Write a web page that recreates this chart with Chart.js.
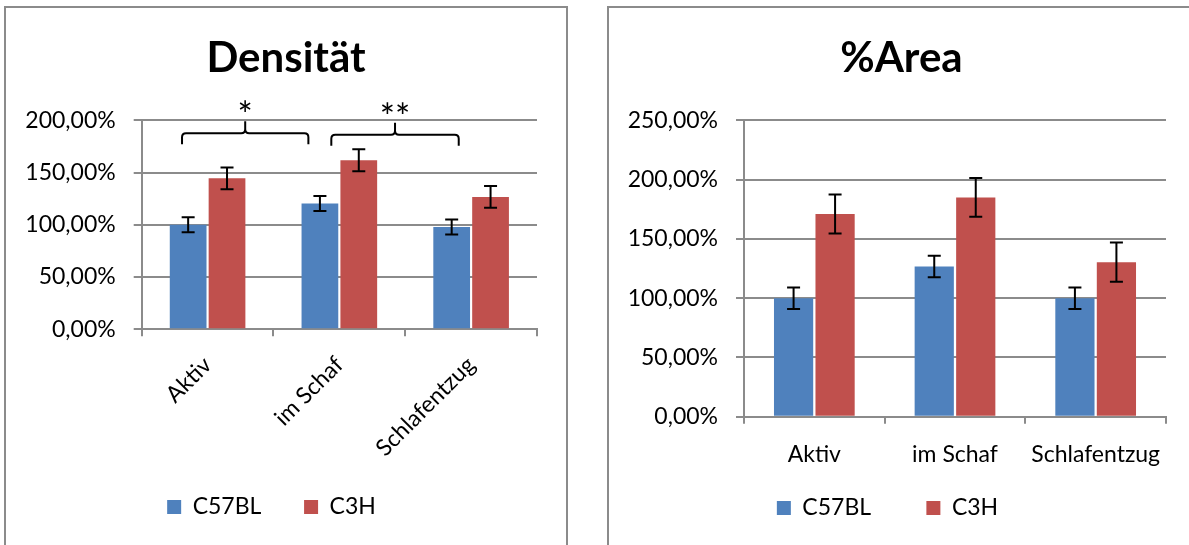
<!DOCTYPE html>
<html lang="de">
<head>
<meta charset="UTF-8">
<title>Densität / %Area</title>
<script src="https://cdn.jsdelivr.net/npm/chart.js@4.4.1/dist/chart.umd.min.js"></script>
<style>
  html, body { margin: 0; padding: 0; background: #fff; overflow: hidden; }
  .box { position: absolute; top: 6px; border: 2px solid #8b8b8b; background: #fff; }
  #boxDens { left: 4px; width: 560px; height: 560px; }
  #boxArea { left: 607px; width: 585px; height: 560px; }
</style>
</head>
<body>
<div class="box" id="boxDens"><canvas id="densChart"></canvas></div>
<div class="box" id="boxArea"><canvas id="areaChart"></canvas></div>

<script>
// --- data ---
const categories = ['Aktiv', 'im Schaf', 'Schlafentzug'];
const seriesNames = ['C57BL', 'C3H'];

const densC57BL = [100, 120.4, 98];
const densC3H = [144.5, 161.8, 126.7];
const densErrC57BL = [7.2, 7.2, 7.2];
const densErrC3H = [10.3, 10.5, 10.4];
const densTicksMax = 200;

const areaC57BL = [100, 126.7, 100];
const areaC3H = [171, 185, 130.4];
const areaErrC57BL = [9.1, 9.1, 9.1];
const areaErrC3H = [16.5, 16.3, 16.5];
const areaTicksMax = 250;

// significance brackets on the Densität chart (category index units / % level)
const bracketFrom = [-0.194, 0.939];
const bracketTo = [0.765, 1.906];
const bracketLevel = [187.6, 186.3];
const bracketLabels = ['*', '**'];

const BLUE = '#4f81bd';
const RED = '#c0504d';
const GRID = '#8b8b8b';
const FS = 23;

Chart.defaults.font.family = 'Lato, "Open Sans", sans-serif';
Chart.defaults.color = '#000';

const pct = v => v.toFixed(2).replace('.', ',') + '%';

const errorBars = {
  id: 'errorBars',
  afterDatasetsDraw(chart) {
    const ctx = chart.ctx, y = chart.scales.y;
    ctx.save();
    ctx.strokeStyle = '#000';
    ctx.lineWidth = 2;
    chart.data.datasets.forEach((ds, i) => {
      chart.getDatasetMeta(i).data.forEach((bar, j) => {
        const top = y.getPixelForValue(ds.data[j] + ds.errors[j]);
        const bot = y.getPixelForValue(ds.data[j] - ds.errors[j]);
        const w = 6.5;
        ctx.beginPath();
        ctx.moveTo(bar.x, top); ctx.lineTo(bar.x, bot);
        ctx.moveTo(bar.x - w, top); ctx.lineTo(bar.x + w, top);
        ctx.moveTo(bar.x - w, bot); ctx.lineTo(bar.x + w, bot);
        ctx.stroke();
      });
    });
    ctx.restore();
  }
};

// title centred over the whole box; legend moved up onto its row
const boxTweak = {
  id: 'boxTweak',
  afterLayout(chart, args, opts) {
    const t = chart.titleBlock;
    if (t) { t.left = 0; t.right = chart.width; t.width = chart.width; }
    const lg = chart.legend;
    if (lg && opts.legendDy) { lg.top += opts.legendDy; lg.bottom += opts.legendDy; }
  }
};

const brackets = {
  id: 'brackets',
  afterDraw(chart) {
    const {ctx, scales: {x, y}} = chart;
    ctx.save();
    ctx.strokeStyle = '#000';
    ctx.fillStyle = '#000';
    ctx.lineWidth = 2;
    ctx.font = '36px Lato';
    ctx.textAlign = 'center';
    ctx.textBaseline = 'alphabetic';
    const r = 4, drop = 11, rise = 12;
    bracketLabels.forEach((lab, i) => {
      const x1 = x.getPixelForValue(bracketFrom[i]);
      const x2 = x.getPixelForValue(bracketTo[i]);
      const xm = (x1 + x2) / 2;
      const yh = y.getPixelForValue(bracketLevel[i]);
      ctx.beginPath();
      ctx.moveTo(x1, yh + drop);
      ctx.lineTo(x1, yh + r);
      ctx.quadraticCurveTo(x1, yh, x1 + r, yh);
      ctx.lineTo(xm - r, yh);
      ctx.quadraticCurveTo(xm, yh, xm, yh - r);
      ctx.lineTo(xm, yh - rise);
      ctx.moveTo(xm, yh - r);
      ctx.quadraticCurveTo(xm, yh, xm + r, yh);
      ctx.lineTo(x2 - r, yh);
      ctx.quadraticCurveTo(x2, yh, x2, yh + r);
      ctx.lineTo(x2, yh + drop);
      ctx.stroke();
      ctx.fillText(lab, xm, yh - 5);
    });
    ctx.restore();
  }
};

function barOptions(title, maxY, axisW, xAxisH, rotation, labelPad, padRight, legendPad, padBottom, legendDy) {
  return {
    responsive: true,
    maintainAspectRatio: false,
    animation: false,
    layout: { padding: { left: 0, right: padRight, top: 0, bottom: padBottom } },
    datasets: { bar: { categoryPercentage: 0.59, barPercentage: 0.945 } },
    plugins: {
      boxTweak: { legendDy: legendDy },
      title: {
        display: true,
        text: title,
        font: { size: 42, weight: 'bold' },
        color: '#000',
        padding: { top: 25, bottom: 37 }
      },
      legend: {
        position: 'bottom',
        labels: {
          boxWidth: 14,
          boxHeight: 14,
          padding: legendPad,
          font: { size: FS },
          color: '#000'
        }
      },
      tooltip: { enabled: false }
    },
    scales: {
      x: {
        afterFit: s => { s.height = xAxisH; },
        grid: { drawOnChartArea: false, drawTicks: true, tickLength: 7, color: GRID, lineWidth: 2 },
        border: { color: GRID, width: 2 },
        ticks: {
          autoSkip: false,
          minRotation: rotation,
          maxRotation: rotation,
          padding: labelPad,
          font: { size: FS },
          color: '#000'
        }
      },
      y: {
        min: 0,
        max: maxY,
        afterFit: s => { s.width = axisW; },
        grid: { color: GRID, lineWidth: 2, tickLength: 8 },
        border: { color: GRID, width: 2 },
        ticks: {
          stepSize: 50,
          padding: 18,
          font: { size: FS },
          color: '#000',
          callback: v => pct(v)
        }
      }
    }
  };
}

new Chart(document.getElementById('densChart'), {
  type: 'bar',
  data: {
    labels: categories,
    datasets: [
      { label: seriesNames[0], data: densC57BL, errors: densErrC57BL, backgroundColor: BLUE },
      { label: seriesNames[1], data: densC3H, errors: densErrC3H, backgroundColor: RED }
    ]
  },
  options: barOptions('Densität', densTicksMax, 135.7, 150, 45, 15, 29, 42.7, 13, -26.5),
  plugins: [errorBars, boxTweak, brackets]
});

new Chart(document.getElementById('areaChart'), {
  type: 'bar',
  data: {
    labels: categories,
    datasets: [
      { label: seriesNames[0], data: areaC57BL, errors: areaErrC57BL, backgroundColor: BLUE },
      { label: seriesNames[1], data: areaC3H, errors: areaErrC3H, backgroundColor: RED }
    ]
  },
  options: barOptions('%Area', areaTicksMax, 135, 52, 0, 16.7, 28, 55.3, 11, -27.5),
  plugins: [errorBars, boxTweak]
});
</script>
</body>
</html>
